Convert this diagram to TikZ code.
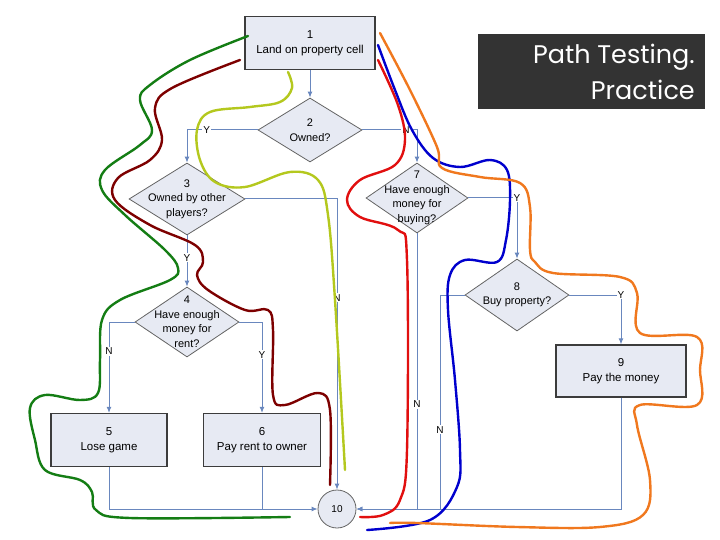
\documentclass[tikz,border=0pt]{standalone}
\usepackage{fontspec}
\setmainfont{Liberation Sans}
\newfontfamily\titlefont{Poppins}
\usepackage{xcolor}
\usetikzlibrary{arrows.meta, shapes.geometric}

\definecolor{boxfill}{RGB}{231,234,243}
\definecolor{boxline}{RGB}{60,60,60}
\definecolor{dialine}{RGB}{100,100,100}
\definecolor{flowline}{RGB}{105,135,190}
\definecolor{titlebg}{RGB}{51,51,51}
\definecolor{wgreen}{RGB}{20,125,20}
\definecolor{wdarkred}{RGB}{125,0,0}
\definecolor{wyellow}{RGB}{180,200,30}
\definecolor{wred}{RGB}{225,15,15}
\definecolor{wblue}{RGB}{0,0,205}
\definecolor{worange}{RGB}{240,120,30}

\begin{document}
\begin{tikzpicture}[x=1pt, y=-1pt,
  block/.style={rectangle, draw=boxline, line width=1.2pt, fill=boxfill,
    minimum width=130pt, minimum height=53pt, align=center,
    font=\fontsize{11.5}{15}\selectfont},
  decision/.style={diamond, draw=dialine, line width=0.8pt, fill=boxfill,
    inner sep=0pt, minimum width=104pt, minimum height=70pt},
  dtext/.style={align=center, font=\fontsize{11}{14.5}\selectfont},
  term/.style={circle, draw=dialine, line width=0.8pt, fill=boxfill,
    minimum size=38pt, inner sep=0pt, font=\fontsize{10}{12}\selectfont},
  flow/.style={draw=flowline, line width=1pt},
  edge/.style={flow, -{Latex[length=6pt, width=5pt]}},
  yn/.style={fill=white, inner sep=1pt, font=\fontsize{10}{12}\selectfont},
  walk/.style={line width=2.4pt, line cap=round}
]
\useasboundingbox (0,0) rectangle (720,540);

% title
\node[fill=titlebg, minimum width=227pt, minimum height=75pt, inner sep=0pt] (title) at (591.5,71.5) {};
\node[text=white, align=right, anchor=north east, inner sep=0pt,
  font=\titlefont\fontsize{25.5}{36}\selectfont] (titletxt) at (695,44) {Path Testing.\\Practice};

% blocks and decisions
\node[block] (b1) at (310,43) {1\\Land on property cell};
\node[decision, minimum height=64pt, label={[dtext]center:{2\\Owned?}}] (d2) at (310,130) {};
\node[decision, minimum width=116pt, minimum height=72pt, label={[dtext]center:{3\\Owned by other\\players?}}] (d3) at (187,199) {};
\node[decision, label={[dtext]center:{4\\Have enough\\money for\\rent?}}] (d4) at (187,322) {};
\node[block, minimum width=116pt] (b5) at (109,440) {5\\Lose game};
\node[block, minimum width=117pt] (b6) at (262,440) {6\\Pay rent to owner};
\node[decision, minimum width=102pt, label={[dtext]center:{7\\Have enough\\money for\\buying?}}] (d7) at (417,198) {};
\node[decision, minimum height=72pt, label={[dtext]center:{8\\Buy property?}}] (d8) at (517,295) {};
\node[block, minimum height=52pt] (b9) at (621,371) {9\\Pay the money};
\node[term] (c10) at (337,509) {10};
\coordinate (j8) at (440,509);

% connectors
\draw[edge] (b1) -- (d2);
\draw[edge] (d2.west) -| node[yn, pos=0.36] {Y} (d3.north);
\draw[edge] (d2.east) -| node[yn, pos=0.4] {N} (d7.north);
\draw[edge] (d3.east) -| node[yn, pos=0.67] {N} (c10.north);
\draw[edge] (d3.south) -- node[yn, pos=0.44] {Y} (d4.north);
\draw[edge] (d4.west) -| node[yn, pos=0.66] {N} (b5.north);
\draw[edge] (d4.east) -| node[yn, pos=0.68] {Y} (b6.north);
\draw[edge] (b5.south) |- (c10.west);
\draw[flow] (b6.south) -- (b6.south |- c10.west);
\draw[edge] (d7.east) -| node[yn, pos=0.5] {Y} (d8.north);
\draw[edge] (d7.south) |- node[yn, pos=0.31] {N} (c10.east);
\draw[flow] (d8.west) -| node[yn, pos=0.815] {N} (j8);
\draw[edge] (d8.east) -| node[yn, pos=0.5] {Y} (b9.north);
\draw[edge] (b9.south) |- (c10.east);

% test paths
\draw[walk, wgreen] plot[smooth, tension=0.6] coordinates {(248,36) (190,60) (150,85) (140,100) (152,130) (140,145) (105,170) (102,190) (125,215) (165,250) (178,268) (170,280) (120,300) (102,320) (100,360) (98,393) (80,400) (45,395) (30,408) (35,440) (45,470) (80,480) (92,492) (96,510) (130,518) (290,517)};
\draw[walk, wdarkred] plot[smooth, tension=0.6] coordinates {(240,60) (172,88) (155,108) (162,140) (150,160) (118,178) (115,200) (150,225) (195,245) (203,262) (197,275) (208,290) (245,310) (268,310) (273,330) (273,395) (285,405) (318,393) (330,410) (330,485)};
\draw[walk, wyellow] plot[smooth, tension=0.6] coordinates {(288,72) (292,88) (280,102) (250,107) (210,112) (197,130) (200,160) (215,182) (245,187) (290,172) (318,180) (328,215) (335,300) (345,470)};
\draw[walk, wred] plot[smooth, tension=0.6] coordinates {(378,60) (398,105) (405,140) (395,165) (360,180) (347,200) (360,217) (398,230) (407,260) (407,450) (400,500) (383,515) (360,517)};
\draw[walk, wblue] plot[smooth, tension=0.6] coordinates {(378,45) (395,90) (412,130) (433,158) (460,167) (490,160) (507,170) (510,200) (506,240) (497,262) (465,260) (450,275) (448,310) (455,380) (460,450) (457,487) (430,520) (367,530)};
\draw[walk, worange] plot[smooth, tension=0.6] coordinates {(380,33) (410,90) (437,147) (442,168) (480,177) (520,183) (530,207) (530,250) (535,262) (553,273) (620,277) (637,293) (640,333) (697,337) (700,370) (697,405) (640,405) (637,425) (650,480) (643,515) (600,527) (517,527) (417,523) (390,523)};
\end{tikzpicture}
\end{document}
